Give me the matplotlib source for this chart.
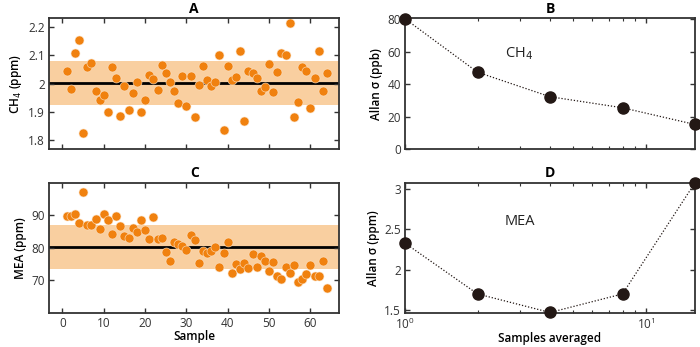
import numpy as np
import matplotlib.pyplot as plt

plt.rcParams['font.family'] = ['Open Sans', 'DejaVu Sans']

# CH4 and MEA readings for each sample
sample = np.arange(1, 65)
ch4 = [2.045, 1.981, 2.108, 2.154, 1.823, 2.057, 2.072, 1.974, 1.943, 1.960,
       1.897, 2.057, 2.021, 1.885, 1.992, 1.904, 1.966, 2.004, 1.897, 1.942,
       2.029, 2.017, 1.977, 2.067, 2.039, 2.004, 1.973, 1.929, 2.027, 1.920,
       2.027, 1.880, 1.995, 2.062, 2.013, 1.992, 2.007, 2.100, 1.833, 2.063,
       2.011, 2.023, 2.115, 1.866, 2.044, 2.037, 2.019, 1.972, 1.987, 2.070,
       1.970, 2.042, 2.108, 2.102, 2.215, 1.880, 1.935, 2.058, 2.046, 1.912,
       2.021, 2.115, 1.975, 2.039]
mea = [89.8, 89.8, 90.3, 87.7, 97.0, 87.1, 87.1, 88.9, 85.9, 90.3,
       88.4, 84.3, 89.9, 86.8, 83.5, 82.9, 86.0, 84.7, 88.4, 85.5,
       82.8, 89.6, 82.6, 83.1, 78.6, 75.8, 81.9, 81.0, 80.6, 79.4,
       84.0, 82.5, 75.2, 79.0, 78.4, 79.0, 80.2, 74.1, 78.5, 81.9,
       72.2, 74.9, 73.3, 75.3, 73.8, 78.0, 74.1, 77.5, 75.9, 72.9,
       75.5, 71.4, 70.3, 74.1, 72.2, 74.8, 69.4, 70.3, 71.8, 74.6,
       71.3, 71.4, 75.9, 67.6]

# mean and spread bands
ch4_mean, ch4_lo, ch4_hi = 2.003, 1.924, 2.080
mea_mean, mea_lo, mea_hi = 80.2, 73.3, 86.9

# Allan deviation vs averaging window
n_avg = [1, 2, 4, 8, 16]
allan_ch4 = [80.2, 47.3, 32.2, 25.4, 15.1]
allan_mea = [2.33, 1.70, 1.47, 1.70, 3.08]

orange = '#F0810F'
band = '#F9CFA0'
dark = '#231815'

fig = plt.figure(figsize=(7, 3.47), dpi=100)
axA = fig.add_axes([0.0704, 0.5706, 0.4143, 0.3767])
axC = fig.add_axes([0.0704, 0.0988, 0.4143, 0.3747])
axB = fig.add_axes([0.5786, 0.5706, 0.4143, 0.3767])
axD = fig.add_axes([0.5786, 0.0988, 0.4143, 0.3747])

lab = dict(fontsize=8.5, fontweight='semibold')


def style(ax):
    for s in ax.spines.values():
        s.set_color('#333333')
        s.set_linewidth(1.3)
    ax.tick_params(which='both', direction='in', top=True, right=True,
                   color='#333333', labelsize=8.5, labelcolor='#333333',
                   pad=3)
    ax.tick_params(which='major', length=3.5, width=1)
    ax.tick_params(which='minor', length=2, width=0.8)


def scatter_panel(ax, y, mean, lo, hi):
    ax.axhspan(lo, hi, color=band, lw=0, zorder=0)
    ax.axhline(mean, color='black', lw=2, zorder=1)
    ax.scatter(sample, y, s=42, color=orange, edgecolors='#FBE3C8',
               linewidths=0.4, zorder=2)
    ax.set_xlim(-3.2, 67)
    ax.set_xticks(range(0, 70, 10))
    style(ax)


scatter_panel(axA, ch4, ch4_mean, ch4_lo, ch4_hi)
axA.set_ylim(1.767, 2.232)
axA.set_yticks([1.8, 1.9, 2.0, 2.1, 2.2])
axA.set_yticklabels(['1.8', '1.9', '2', '2.1', '2.2'])
axA.set_xticklabels([])
axA.set_ylabel('CH$_4$ (ppm)', labelpad=3, **lab)
axA.set_title('A', fontsize=10, fontweight='bold', pad=4)

scatter_panel(axC, mea, mea_mean, mea_lo, mea_hi)
axC.set_ylim(60, 100)
axC.set_yticks([70, 80, 90])
axC.set_xlabel('Sample', labelpad=0, **lab)
axC.set_ylabel('MEA (ppm)', labelpad=3, **lab)
axC.set_title('C', fontsize=10, fontweight='bold', pad=4)


def allan_panel(ax, y):
    ax.plot(n_avg, y, ls=(0, (1, 1.5)), lw=0.9, color=dark, zorder=2,
            clip_on=False)
    ax.plot(n_avg, y, 'o', ms=8, color=dark, zorder=3, clip_on=False)
    ax.set_xscale('log')
    ax.set_xlim(1, 16)
    style(ax)


allan_panel(axB, allan_ch4)
axB.set_ylim(0, 80.5)
axB.set_yticks([0, 20, 40, 60, 80])
axB.tick_params(which='both', labelbottom=False)
axB.set_ylabel('Allan σ (ppb)', labelpad=3, **lab)
axB.set_title('B', fontsize=10, fontweight='bold', pad=4)
axB.text(0.345, 0.73, 'CH$_4$', transform=axB.transAxes, fontsize=10.5,
         ha='left', va='center', color='#222222')

allan_panel(axD, allan_mea)
axD.set_ylim(1.467, 3.08)
axD.set_yticks([1.5, 2, 2.5, 3])
axD.set_yticklabels(['1.5', '2', '2.5', '3'])
axD.set_xlabel('Samples averaged', labelpad=0, **lab)
axD.set_ylabel('Allan σ (ppm)', labelpad=3, **lab)
axD.set_title('D', fontsize=10, fontweight='bold', pad=4)
axD.text(0.345, 0.70, 'MEA', transform=axD.transAxes, fontsize=10.5,
         ha='left', va='center', color='#222222')

fig.savefig('out.png', dpi=100)
